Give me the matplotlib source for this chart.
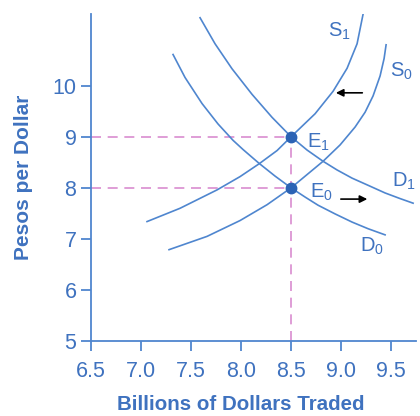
import matplotlib
matplotlib.use('Agg')
import matplotlib.pyplot as plt

BLUE = '#4f86cf'
TEXT_BLUE = '#3f72bf'
DOT_BLUE = '#2c63b5'
PINK = '#d98ccf'

plt.rcParams['font.family'] = ['Liberation Sans', 'DejaVu Sans']
plt.rcParams['mathtext.fontset'] = 'custom'
plt.rcParams['mathtext.rm'] = 'Liberation Sans'
plt.rcParams['mathtext.it'] = 'Liberation Sans'

# curves (billions of dollars, pesos per dollar)
s1_x = [7.06, 7.39, 7.76, 7.99, 8.18, 8.36, 8.50, 8.74, 8.92, 9.06, 9.16, 9.22]
s1_y = [7.34, 7.60, 7.96, 8.22, 8.47, 8.73, 9.00, 9.45, 9.89, 10.34, 10.82, 11.40]
s0_x = [7.28, 7.66, 7.99, 8.26, 8.50, 8.82, 8.99, 9.14, 9.24, 9.32, 9.39, 9.43, 9.45]
s0_y = [6.79, 7.05, 7.36, 7.67, 8.00, 8.52, 8.84, 9.19, 9.48, 9.80, 10.19, 10.53, 10.80]
d1_x = [7.59, 7.74, 7.91, 8.11, 8.31, 8.50, 8.66, 8.82, 8.96, 9.11, 9.27, 9.44, 9.59, 9.72]
d1_y = [11.33, 10.82, 10.33, 9.83, 9.38, 9.00, 8.74, 8.52, 8.35, 8.19, 8.05, 7.90, 7.79, 7.70]
d0_x = [7.32, 7.44, 7.61, 7.77, 7.92, 8.02, 8.18, 8.34, 8.50, 8.64, 8.77, 8.94, 9.11, 9.27, 9.44]
d0_y = [10.61, 10.16, 9.65, 9.25, 8.93, 8.75, 8.48, 8.23, 8.00, 7.82, 7.66, 7.49, 7.33, 7.20, 7.08]

eq_x = [8.5, 8.5]
eq_y = [9, 8]
eq_names = ['E$_{1}$', 'E$_{0}$']

x_ticks = [6.5, 7.0, 7.5, 8.0, 8.5, 9.0, 9.5]
y_ticks = [5, 6, 7, 8, 9, 10]

fig = plt.figure(figsize=(4.2, 4.16), dpi=100)
ax = fig.add_axes([0.2167, 0.180, 0.774, 0.786])
ax.set_xlim(6.5, 9.75)
ax.set_ylim(5, 11.4)

for spine in ax.spines.values():
    if spine.spine_type in ('top', 'right'):
        spine.set_visible(False)
    else:
        spine.set_color(BLUE)
        spine.set_linewidth(1.3)

ax.set_xticks(x_ticks)
ax.set_xticklabels(['%.1f' % x for x in x_ticks])
ax.set_yticks(y_ticks)
ax.tick_params(colors=BLUE, labelcolor=TEXT_BLUE, length=7, width=1.3,
               labelsize=15.5, direction='out')
ax.tick_params(axis='x', pad=7)
ax.set_xlabel('Billions of Dollars Traded', fontsize=14.8, fontweight='bold',
              color=TEXT_BLUE)
ax.xaxis.set_label_coords(0.46, -0.166)
ax.set_ylabel('Pesos per Dollar', fontsize=15, fontweight='bold',
              color=TEXT_BLUE, labelpad=14)

# dashed guides
dash = dict(color=PINK, lw=1.2, dashes=(6, 4), zorder=1)
for y in eq_y:
    ax.plot([6.5, 8.5], [y, y], **dash)
ax.plot([8.5, 8.5], [5, max(eq_y)], **dash)

for xs, ys in [(s1_x, s1_y), (s0_x, s0_y), (d1_x, d1_y), (d0_x, d0_y)]:
    ax.plot(xs, ys, color=BLUE, lw=1.2, zorder=2, solid_joinstyle='round')

ax.plot(eq_x, eq_y, 'o', color=DOT_BLUE, markersize=7.5, zorder=3)

lab = dict(color=TEXT_BLUE, fontsize=14.5, va='baseline', ha='left')
ax.text(8.87, 10.96, 'S$_{1}$', **lab)
ax.text(9.49, 10.18, 'S$_{0}$', **lab)
ax.text(9.51, 8.02, 'D$_{1}$', **lab)
ax.text(9.19, 6.75, 'D$_{0}$', **lab)
ax.text(8.66, 8.78, eq_names[0], **lab)
ax.text(8.69, 7.80, eq_names[1], **lab)

arrow = dict(arrowstyle='-|>', color='black', lw=1.2, mutation_scale=11)
ax.annotate('', xy=(8.92, 9.86), xytext=(9.24, 9.86), arrowprops=arrow)
ax.annotate('', xy=(9.29, 7.78), xytext=(8.97, 7.78), arrowprops=arrow)

fig.savefig('out.png', dpi=100)
